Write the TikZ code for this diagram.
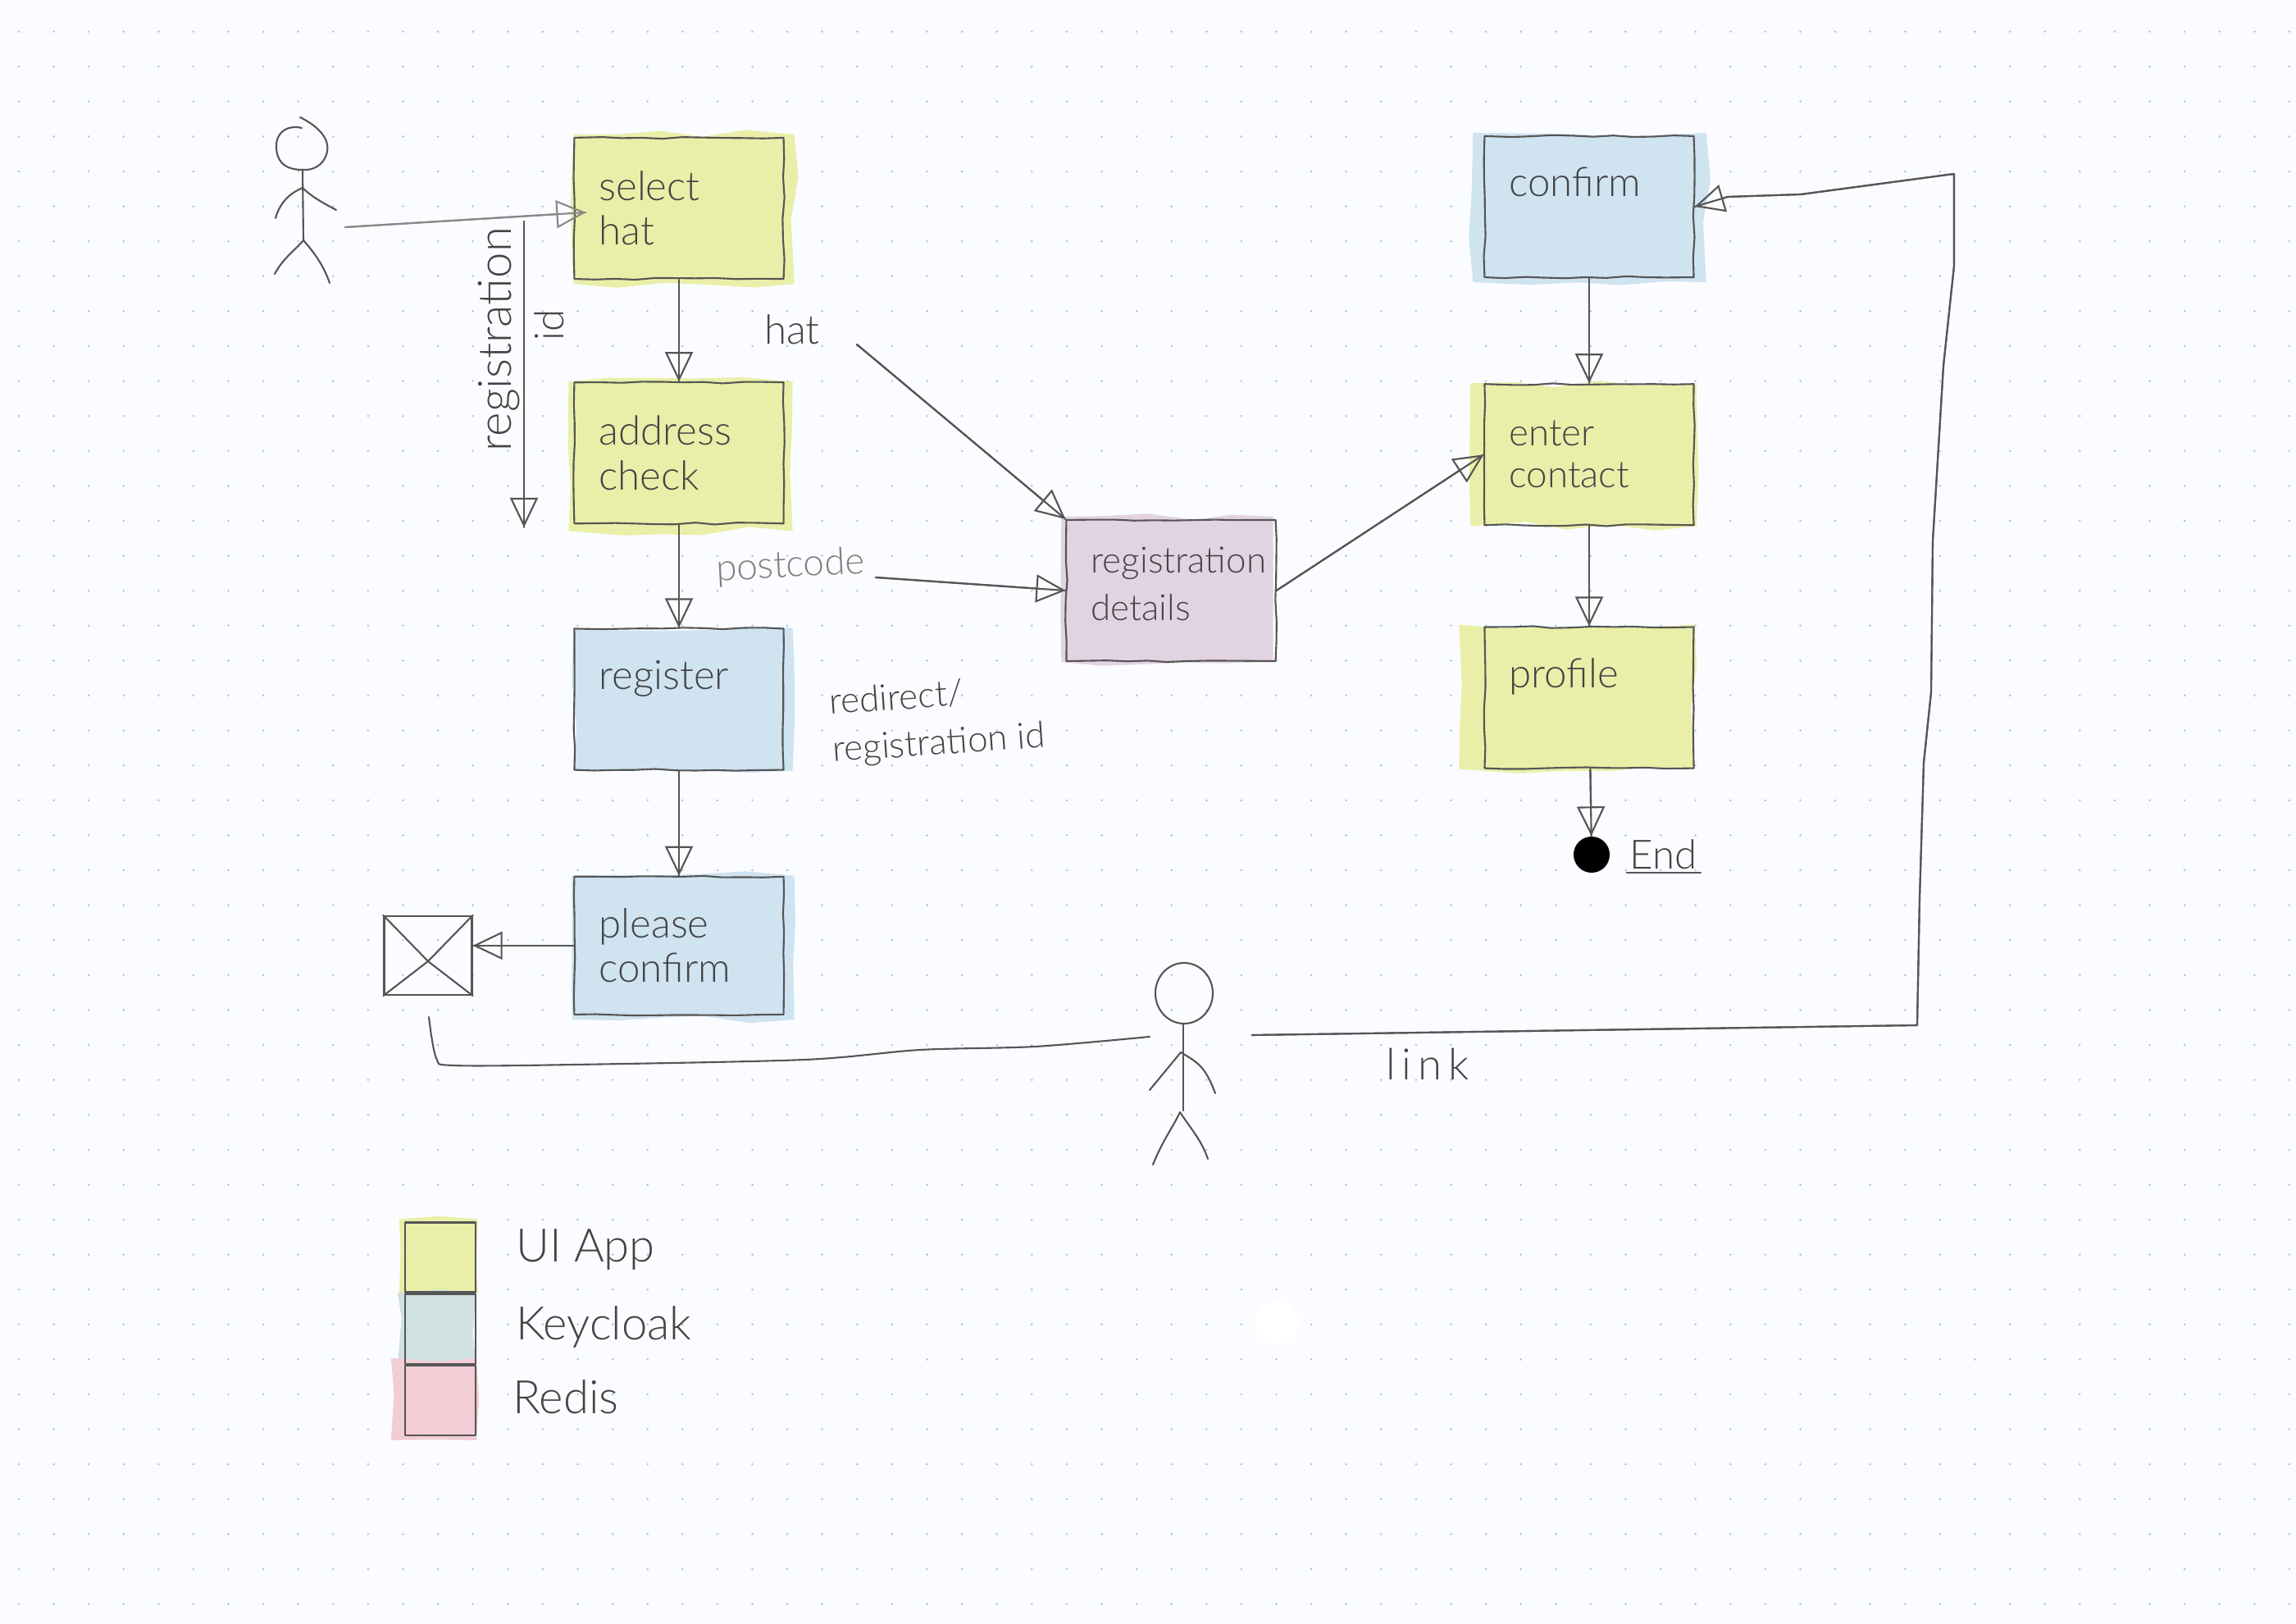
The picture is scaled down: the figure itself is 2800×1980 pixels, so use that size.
\documentclass[tikz,border=0pt]{standalone}
\usepackage{fontspec}
\setmainfont{Lato Light}
\usetikzlibrary{positioning, arrows.meta, decorations.pathmorphing}
\pgfdeclarelayer{paperlayer}
\pgfdeclarelayer{washlayer}
\pgfsetlayers{paperlayer,washlayer,main}
\definecolor{paper}{HTML}{FBFCFF}
\definecolor{griddot}{HTML}{A9C6CE}
\definecolor{ink}{HTML}{555555}
\definecolor{uiwash}{HTML}{E9EFA8}
\definecolor{kcwash}{HTML}{CFE3F1}
\definecolor{rdwash}{HTML}{E2D3E3}
\definecolor{keywash}{HTML}{CFE1E0}
\definecolor{pinkwash}{HTML}{F3CDD6}
\tikzset{
  pen/.style={draw=ink, line width=0.6pt, line cap=round, line join=round},
  flow/.style={pen, ->, postaction={draw, -}},
  hand/.style={font=\fontsize{14}{15.4}\selectfont, text=ink!80!black},
  sketchbox/.style={pen, hand, minimum width=2.55cm, minimum height=1.72cm, inner sep=0pt,
    text width=1.95cm, align=left,
    decorate, decoration={random steps, segment length=7pt, amplitude=0.35pt}},
  oneline/.style={text depth=0.6cm},
  keybox/.style={pen, minimum width=0.86cm, minimum height=0.85cm, inner sep=0pt},
  label/.style={hand, inner sep=1pt},
  wash/.style={fill=#1, decorate, decoration={random steps, segment length=15pt, amplitude=1.6pt}}
}
\begin{document}
\begin{tikzpicture}[>={Triangle[open, length=0.36cm, width=0.34cm]}, x=0.01cm, y=-0.01cm]
\pgfmathsetseed{42}

\useasboundingbox (0,0) rectangle (2800,1980);
\begin{pgfonlayer}{paperlayer}
\fill[paper] (0,0) rectangle (2800,1980);
\foreach \i in {0,...,65}
  \foreach \j in {0,...,45}
    \fill[griddot] ({22.9+42.6*\i},{38.6+42.6*\j}) circle (1.4);
\fill[white] (1557,1613) circle (27);
\end{pgfonlayer}

% left column
\begin{scope}[node distance = 1.24cm]
\node[sketchbox] (select-hat) at (828,254) {select\\hat};
\node[sketchbox, below = of select-hat] (address-check) {address\\check};
\node[sketchbox, oneline, below = 1.26cm of address-check] (register) {register};
\node[sketchbox, minimum height=1.68cm, below = 1.28cm of register] (please-confirm) {please\\confirm};
\end{scope}

% right column
\begin{scope}[node distance = 1.28cm]
\node[sketchbox, oneline] (confirm) at (1938,252) {confirm};
\node[sketchbox, below = of confirm, font=\fontsize{13}{14.5}\selectfont] (enter-contact) {enter\\contact};
\node[sketchbox, oneline, below = 1.22cm of enter-contact] (profile) {profile};
\end{scope}

\node[sketchbox, text depth=0.75cm, font=\fontsize{12.5}{16.5}\selectfont] (registration-details) at (1428,720) {\mbox{registration}\\details};
\node[circle, fill=black, minimum size=0.44cm, inner sep=0pt] (end-dot) at (1941,1042) {};
\node[label, right = 0.2cm of end-dot] (end-label) {End};
\draw[pen] (end-label.south west) -- (end-label.south east);

% first person
\draw[pen] (366,143) .. controls (390,155) and (402,170) .. (399,185) .. controls (395,203) and (380,208) .. (369,207)
  .. controls (345,207) and (337,195) .. (337,178) .. controls (337,160) and (352,152) .. (368,156);
\draw[pen] (369,207) -- (370,293);
\draw[pen] (336,266) .. controls (342,245) and (355,235) .. (369,229) .. controls (380,240) and (395,248) .. (410,256);
\draw[pen] (335,334) .. controls (345,315) and (360,305) .. (370,293) .. controls (385,310) and (395,325) .. (402,345);

% second person
\draw[pen] (1444,1211) ellipse (35 and 37);
\draw[pen] (1443,1248) -- (1443,1354);
\draw[pen] (1402,1329) -- (1440,1283) .. controls (1460,1295) and (1470,1300) .. (1482,1333);
\draw[pen] (1406,1420) .. controls (1418,1390) and (1430,1375) .. (1439,1356) .. controls (1455,1380) and (1465,1390) .. (1473,1413);

% mail
\node[pen, minimum width=1.07cm, minimum height=0.96cm, inner sep=0pt] (envelope) at (522,1165) {};
\draw[pen] (envelope.north west) -- ([yshift=-0.07cm]envelope.center) -- (envelope.north east);
\draw[pen] (envelope.south west) -- ([yshift=-0.07cm]envelope.center) -- (envelope.south east);

% labels
\node[label] (hat) at (966,402) {hat};
\node[label, rotate=3, font=\fontsize{13}{15}\selectfont, text=ink!75] (postcode) at (964,691) {postcode};
\node[label, align=left, rotate=4, font=\fontsize{12.5}{16.5}\selectfont] (redirect) at (1143,879) {redirect/\\registration id};
\node[label, rotate=90, font=\fontsize{16}{18}\selectfont] (regid-name) at (608,414) {registration};
\node[label, rotate=90, font=\fontsize{14}{16}\selectfont] (regid-id) at (670,396) {id};
\node[label, font=\fontsize{15}{16}\selectfont\addfontfeature{LetterSpace=15}] (link) at (1741,1297) {link};

% connectors
\coordinate (person-hand) at (421,277);
\coordinate (regid-start) at (639,270);
\coordinate (regid-end) at (639,643);
\coordinate (hat-start) at (1045,420);
\coordinate (postcode-start) at (1068,704);
\coordinate (link-start) at (1527,1262);
\coordinate (mail-start) at (1402,1264);
\coordinate (mail-end) at (523,1240);

\draw[flow, draw=ink!70] (person-hand) -- ([shift={(15,5)}]select-hat.west);
\draw[flow] (regid-start) -- (regid-end);
\draw[flow] (select-hat) -- (address-check);
\draw[flow] (address-check) -- (register);
\draw[flow] (register) -- (please-confirm);
\draw[flow] (please-confirm.west) -- (envelope.east |- please-confirm.west);
\draw[flow] (hat-start) -- (registration-details.north west);
\draw[flow] (postcode-start) -- (registration-details.west);
\draw[flow] (registration-details.east) -- (enter-contact.west);
\draw[flow] (confirm) -- (enter-contact);
\draw[flow] (enter-contact) -- (profile);
\draw[flow] (profile) -- (end-dot);
\draw[flow] (link-start) -- (2338,1250) -- (2341,1095) -- (2346,930) -- (2355,844) -- (2357,660) -- (2370,446) -- (2383,324) -- (2383,212) -- (2196,237) -- (2107,240) -- (confirm.east);
\draw[pen] plot[smooth] coordinates {(mail-end) (532,1290) (553,1299) (701,1298) (981,1292) (1122,1280) (1262,1276) (mail-start)};

% legend
\begin{scope}[node distance = 0pt]
\node[keybox] (key-ui) at (537,1533) {};
\node[keybox, below = of key-ui] (key-keycloak) {};
\node[keybox, below = of key-keycloak] (key-redis) {};
\node[label, font=\fontsize{16}{17}\selectfont, anchor=west] (ui-label) at (625,1524) {UI App};
\node[label, font=\fontsize{16}{17}\selectfont, anchor=west] (keycloak-label) at (625,1618) {Keycloak};
\node[label, font=\fontsize{16}{17}\selectfont, anchor=west] (redis-label) at (621,1703) {Redis};
\end{scope}

% colour washes under the boxes
\begin{pgfonlayer}{washlayer}
\foreach \boxname/\washcol/\wl/\wr/\wt/\wb in {
  select-hat/uiwash/0/12/3/5, address-check/uiwash/6/10/0/8,
  register/kcwash/0/10/0/0, please-confirm/kcwash/2/12/0/5,
  confirm/kcwash/13/14/3/5, enter-contact/uiwash/16/2/0/0,
  profile/uiwash/30/0/2/0, registration-details/rdwash/5/-4/3/0,
  key-ui/uiwash/6/2/3/0, key-keycloak/keywash/8/0/0/0, key-redis/pinkwash/16/0/8/5}
  \fill[wash=\washcol] ([shift={(-\wl,\wb)}]\boxname.south west) rectangle ([shift={(\wr,-\wt)}]\boxname.north east);
\end{pgfonlayer}

\end{tikzpicture}
\end{document}
